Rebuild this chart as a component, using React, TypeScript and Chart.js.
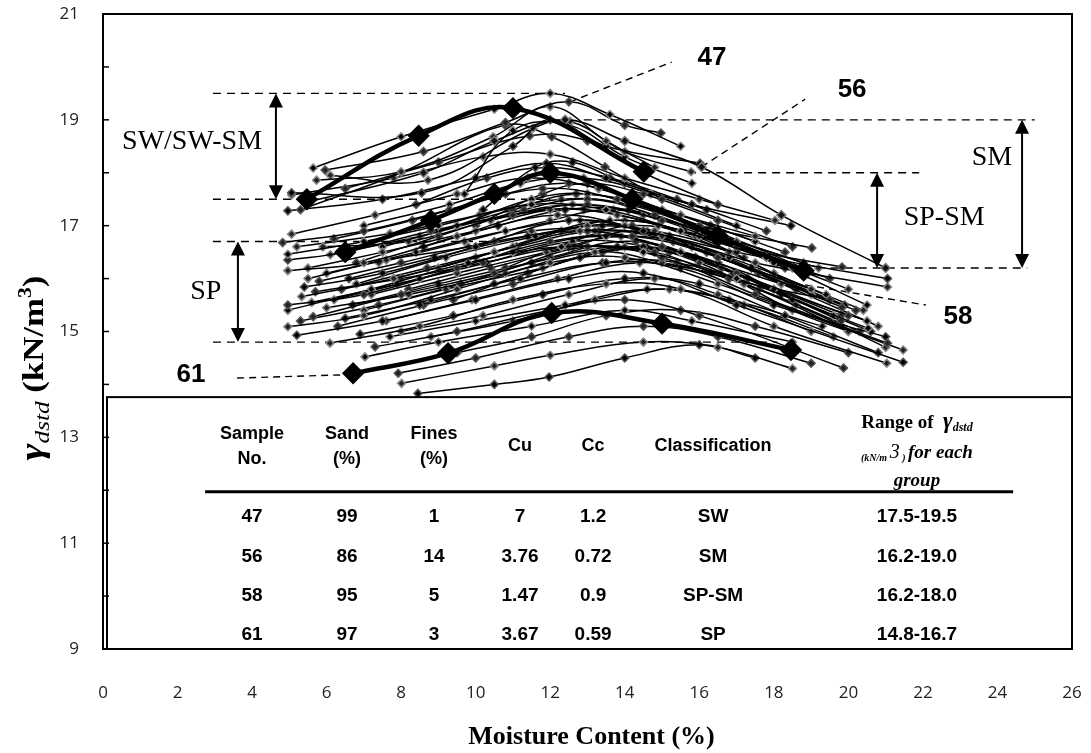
import { useEffect, useRef } from 'react';
import { Chart, registerables } from 'chart.js';

Chart.register(...registerables);

// ---------------- axes ----------------
const xTickValues = [0, 2, 4, 6, 8, 10, 12, 14, 16, 18, 20, 22, 24, 26];
const yTickValues = [9, 11, 13, 15, 17, 19, 21];
const yMinorTicks = [10, 11, 12, 13, 14, 15, 16, 17, 18, 19, 20];

// ---------------- labelled (bold) samples : [moisture %, dry unit weight kN/m3] ----------------
const sample47: number[][] = [[5.47, 17.5], [8.47, 18.7], [11.0, 19.22], [14.51, 18.02]];
const sample56: number[][] = [[5.5, 17.45], [8.6, 18.0], [10.5, 18.6], [12.4, 19.0], [14.0, 18.6], [16.06, 18.11], [18.2, 17.2], [21.0, 16.2]];
const sample58: number[][] = [[6.5, 16.5], [8.8, 17.1], [10.5, 17.6], [12.0, 18.0], [14.2, 17.5], [16.5, 16.8], [18.8, 16.15]];
const sample61: number[][] = [[6.71, 14.21], [9.26, 14.59], [12.04, 15.35], [15.0, 15.15], [18.46, 14.65]];

// ---------------- other compaction curves ----------------
const curve01: number[][] = [[5.64, 18.09], [8.0, 18.68], [10.5, 19.2], [12.0, 19.5], [13.6, 19.1], [15.5, 18.5]];
const curve02: number[][] = [[5.96, 18.05], [8.6, 18.4], [10.8, 18.95], [12.5, 19.34], [14.0, 18.9], [14.97, 18.75]];
const curve03: number[][] = [[5.73, 17.86], [8.0, 18.02], [10.47, 18.68], [12.0, 19.25], [13.5, 18.6], [14.8, 18.1]];
const curve04: number[][] = [[5.06, 17.62], [8.55, 17.62], [11.0, 18.5], [12.0, 19.0], [13.5, 18.5], [16.02, 18.18]];
const curve05: number[][] = [[6.1, 17.95], [8.72, 17.86], [11.54, 18.84], [12.53, 18.97], [14.0, 18.4], [15.78, 18.02]];
const curve06: number[][] = [[5.3, 17.3], [8.0, 18.0], [10.79, 18.9], [12.04, 18.68], [13.47, 18.11], [15.0, 17.5]];
const curve07: number[][] = [[9.7, 17.6], [11.0, 18.8], [12.5, 18.9], [14.0, 18.3], [15.8, 17.8]];
const curve08: number[][] = [[6.5, 17.7], [9.0, 18.2], [11.45, 18.7], [13.0, 18.6], [14.5, 18.0], [16.5, 17.4]];
const curve09: number[][] = [[5.06, 17.58], [7.8, 17.9], [10.2, 18.3], [12.0, 18.35], [14.0, 17.9], [16.0, 17.5], [18.03, 17.1]];
const curve10: number[][] = [[4.96, 17.28], [7.5, 17.5], [10.0, 17.9], [11.9, 18.18], [13.5, 17.9], [15.8, 17.4], [18.46, 17.0]];
const curve11: number[][] = [[5.06, 16.84], [7.3, 17.2], [9.5, 17.6], [11.4, 17.9], [13.3, 17.7], [15.5, 17.2], [17.5, 16.8]];
const curve12: number[][] = [[4.82, 16.68], [7.0, 16.9], [9.3, 17.3], [11.8, 17.7], [13.8, 17.5], [16.0, 17.0], [19.02, 16.58]];
const curve13: number[][] = [[4.96, 16.46], [7.0, 16.7], [9.0, 17.0], [11.5, 17.4], [13.5, 17.3], [15.5, 16.9], [17.8, 16.4]];
const curve14: number[][] = [[4.96, 16.35], [6.5, 16.5], [8.8, 16.9], [11.0, 17.2], [13.0, 17.4], [15.0, 17.1], [17.0, 16.6], [19.83, 16.22]];
const curve15: number[][] = [[4.96, 16.15], [7.0, 16.3], [9.5, 16.8], [12.0, 17.3], [13.8, 17.2], [16.0, 16.8], [18.5, 16.2]];
const curve16: number[][] = [[5.4, 15.84], [7.5, 16.1], [10.0, 16.6], [12.5, 17.1], [14.5, 16.9], [17.0, 16.5], [21.05, 16.0]];
const curve17: number[][] = [[5.33, 15.66], [7.8, 16.0], [10.5, 16.5], [12.8, 16.9], [15.0, 16.8], [17.5, 16.3], [21.05, 15.84]];
const curve18: number[][] = [[4.96, 15.5], [7.0, 15.7], [9.5, 16.2], [12.0, 16.7], [14.2, 16.8], [16.5, 16.4], [19.83, 15.46]];
const curve19: number[][] = [[4.96, 15.4], [7.2, 15.8], [9.8, 16.3], [12.3, 16.6], [14.5, 16.5], [17.0, 16.0], [20.53, 15.06]];
const curve20: number[][] = [[5.64, 15.28], [8.0, 15.7], [10.5, 16.1], [13.0, 16.6], [15.0, 16.4], [17.5, 15.7], [21.05, 14.78]];
const curve21: number[][] = [[4.96, 15.09], [7.0, 15.3], [9.5, 15.8], [12.0, 16.3], [14.0, 16.4], [16.5, 15.9], [21.47, 14.65]];
const curve22: number[][] = [[5.2, 14.93], [7.5, 15.2], [10.0, 15.6], [12.5, 16.0], [14.5, 16.1], [17.0, 15.5], [21.47, 14.42]];
const curve23: number[][] = [[6.09, 14.78], [8.5, 15.1], [11.0, 15.6], [13.5, 15.9], [15.5, 15.8], [18.0, 15.1], [21.03, 14.4]];
const curve24: number[][] = [[7.3, 14.71], [9.5, 15.0], [12.0, 15.4], [14.0, 15.6], [16.0, 15.3], [19.87, 14.31]];
const curve25: number[][] = [[7.03, 14.52], [9.0, 14.8], [11.5, 15.1], [14.0, 15.4], [15.8, 15.2], [18.5, 14.8]];
const curve26: number[][] = [[7.92, 14.21], [10.0, 14.5], [12.5, 14.9], [14.5, 15.1], [16.5, 14.9], [19.0, 14.4]];
const curve27: number[][] = [[8.01, 14.02], [10.5, 14.35], [12.0, 14.55], [14.5, 14.8], [16.5, 14.7], [18.5, 14.3]];
const curve28: number[][] = [[8.45, 13.83], [10.5, 14.0], [11.97, 14.14], [14.0, 14.5], [16.0, 14.75], [17.5, 14.5]];
const curve29: number[][] = [[5.5, 16.2], [7.5, 16.5], [10.0, 16.9], [12.2, 17.2], [14.0, 17.0], [16.5, 16.4], [19.0, 15.8]];
const curve30: number[][] = [[5.8, 15.95], [8.0, 16.3], [10.5, 16.7], [13.0, 16.9], [15.0, 16.6], [17.0, 16.1], [20.0, 15.3]];
const curve31: number[][] = [[6.2, 15.6], [8.5, 16.0], [11.0, 16.5], [13.5, 16.8], [15.5, 16.5], [18.0, 15.8], [20.5, 15.2]];
const curve32: number[][] = [[5.7, 15.75], [8.0, 16.0], [10.2, 16.3], [12.5, 16.6], [14.8, 16.5], [16.8, 16.0], [19.5, 15.6]];
const curve33: number[][] = [[6.0, 15.45], [8.2, 15.7], [10.8, 16.1], [13.2, 16.5], [15.0, 16.3], [17.2, 15.9], [20.0, 15.0]];
const curve34: number[][] = [[6.5, 15.25], [8.8, 15.6], [11.2, 16.0], [13.5, 16.3], [15.5, 16.2], [18.0, 15.5], [21.0, 14.9]];
const curve35: number[][] = [[5.5, 16.0], [7.6, 16.35], [9.8, 16.6], [11.5, 16.9], [13.2, 16.9], [15.5, 16.5], [18.2, 15.9]];
const curve36: number[][] = [[6.8, 16.3], [9.0, 16.8], [11.3, 17.3], [13.0, 17.5], [14.8, 17.2], [17.0, 16.6], [19.5, 16.0]];
const curve37: number[][] = [[7.5, 16.6], [9.5, 17.0], [11.5, 17.5], [13.0, 17.6], [15.0, 17.3], [17.5, 16.7]];
const curve38: number[][] = [[6.2, 16.75], [8.3, 17.1], [10.8, 17.6], [12.5, 17.8], [14.2, 17.5], [16.3, 17.0], [18.3, 16.5]];
const curve39: number[][] = [[9.0, 16.2], [11.0, 16.6], [13.0, 17.0], [14.8, 16.9], [16.8, 16.5], [19.0, 15.7]];
const curve40: number[][] = [[8.5, 15.5], [10.5, 15.9], [12.8, 16.4], [14.5, 16.6], [16.5, 16.3], [18.5, 15.6]];
const curve41: number[][] = [[8.0, 15.0], [10.2, 15.3], [12.5, 15.7], [14.8, 16.0], [16.5, 15.7], [19.0, 15.0]];
const curve42: number[][] = [[9.5, 14.6], [11.5, 14.9], [13.5, 15.3], [15.5, 15.4], [17.5, 15.1], [20.0, 14.6]];
const curve43: number[][] = [[6.8, 15.9], [9.2, 16.4], [11.6, 16.8], [13.6, 17.1], [15.6, 16.9], [18.0, 16.3], [20.5, 15.5]];
const curve44: number[][] = [[10.0, 17.0], [11.8, 17.6], [13.0, 17.8], [14.5, 17.6], [16.5, 17.1], [18.5, 16.6]];
const curve45: number[][] = [[5.9, 16.6], [8.2, 16.7], [10.4, 17.1], [12.6, 17.4], [14.5, 17.2], [17.0, 16.7], [19.2, 16.2]];
const curve46: number[][] = [[10.2, 17.3], [11.6, 18.1], [12.6, 18.2], [14.0, 17.8], [16.2, 17.3]];
const curve47: number[][] = [[7.0, 15.4], [9.2, 15.8], [11.8, 16.2], [14.0, 16.6], [16.0, 16.3], [18.5, 15.4], [20.0, 15.0]];
const curve48: number[][] = [[5.3, 15.2], [7.4, 15.5], [9.6, 15.9], [12.0, 16.4], [14.3, 16.7], [16.6, 16.2], [19.8, 15.2]];
const curve49: number[][] = [[6.0, 16.1], [8.4, 16.5], [10.8, 16.9], [12.8, 17.1], [14.6, 16.9], [16.8, 16.4], [19.4, 15.7]];
const curve50: number[][] = [[6.4, 15.8], [8.7, 16.2], [11.1, 16.6], [13.3, 16.9], [15.3, 16.7], [17.6, 16.1], [20.2, 15.4]];
const curve51: number[][] = [[7.2, 15.7], [9.5, 16.1], [11.9, 16.5], [13.9, 16.8], [15.8, 16.6], [18.2, 15.9], [20.8, 15.1]];
const curve52: number[][] = [[6.6, 16.0], [8.9, 16.4], [11.4, 16.8], [13.4, 17.0], [15.2, 16.8], [17.4, 16.2], [19.9, 15.5]];
const curve53: number[][] = [[7.8, 16.0], [10.0, 16.4], [12.3, 16.9], [14.0, 17.1], [15.9, 16.8], [18.0, 16.1], [20.4, 15.4]];
const curve54: number[][] = [[8.2, 15.8], [10.4, 16.2], [12.6, 16.6], [14.3, 16.9], [16.2, 16.5], [18.6, 15.8]];
const curve55: number[][] = [[5.6, 15.55], [7.9, 15.9], [10.3, 16.3], [12.6, 16.7], [14.6, 16.6], [16.9, 16.1], [19.6, 15.3]];
const curve56: number[][] = [[6.3, 15.1], [8.6, 15.5], [11.0, 15.9], [13.4, 16.3], [15.4, 16.3], [17.6, 15.8], [20.3, 15.0]];
const curve57: number[][] = [[7.6, 15.2], [9.9, 15.6], [12.2, 16.0], [14.4, 16.3], [16.3, 16.1], [18.6, 15.5], [21.0, 14.7]];
const curve58: number[][] = [[6.9, 14.95], [9.4, 15.3], [11.8, 15.7], [14.0, 16.0], [16.0, 15.9], [18.3, 15.3], [20.8, 14.6]];
const curve59: number[][] = [[8.8, 14.9], [11.0, 15.2], [13.2, 15.6], [15.2, 15.8], [17.2, 15.5], [19.6, 14.9]];
const curve60: number[][] = [[9.0, 16.9], [11.0, 17.3], [12.7, 17.6], [14.3, 17.4], [16.4, 16.9], [18.8, 16.2]];
const curve61: number[][] = [[7.0, 17.0], [9.3, 17.4], [11.2, 17.8], [12.9, 17.9], [14.7, 17.6], [17.0, 17.0]];
const curve62: number[][] = [[8.4, 17.4], [10.3, 17.9], [11.9, 18.1], [13.6, 17.9], [15.4, 17.5], [17.8, 16.9]];
const curve63: number[][] = [[7.4, 16.3], [9.7, 16.7], [12.0, 17.1], [13.7, 17.3], [15.6, 17.0], [17.8, 16.4], [20.0, 15.8]];
const curve64: number[][] = [[8.6, 16.6], [10.6, 17.0], [12.4, 17.3], [14.1, 17.3], [16.0, 16.9], [18.3, 16.2]];
const curve65: number[][] = [[6.1, 16.45], [8.5, 16.8], [10.9, 17.2], [12.9, 17.3], [14.9, 17.0], [17.2, 16.4]];
const curve66: number[][] = [[9.4, 15.6], [11.4, 16.1], [13.4, 16.5], [15.2, 16.5], [17.3, 16.0], [19.8, 15.3]];
const curve67: number[][] = [[7.7, 14.9], [10.0, 15.2], [12.4, 15.5], [14.6, 15.8], [16.8, 15.6], [19.3, 15.1]];
const curve68: number[][] = [[10.8, 16.2], [12.6, 16.7], [14.2, 17.0], [16.0, 16.8], [18.1, 16.3]];
const curve69: number[][] = [[5.2, 16.6], [7.7, 16.85], [10.1, 17.2], [12.3, 17.5], [14.1, 17.4], [16.2, 16.9], [18.8, 16.3]];
const curve70: number[][] = [[6.7, 15.5], [9.0, 15.9], [11.5, 16.3], [13.8, 16.6], [15.9, 16.4], [18.2, 15.7], [20.6, 15.0]];

const thinCurves = [
  curve01, curve02, curve03, curve04, curve05, curve06, curve07, curve08, curve09, curve10,
  curve11, curve12, curve13, curve14, curve15, curve16, curve17, curve18, curve19, curve20,
  curve21, curve22, curve23, curve24, curve25, curve26, curve27, curve28, curve29, curve30,
  curve31, curve32, curve33, curve34, curve35, curve36, curve37, curve38, curve39, curve40,
  curve41, curve42, curve43, curve44, curve45, curve46, curve47, curve48, curve49, curve50,
  curve51, curve52, curve53, curve54, curve55, curve56, curve57, curve58, curve59, curve60,
  curve61, curve62, curve63, curve64, curve65, curve66, curve67, curve68, curve69, curve70,
];

// ---------------- group range dashed lines ----------------
const dashLevels = [19.5, 17.5, 16.7, 14.8, 19.0, 18.0, 16.2];
const dashStart = [2.95, 2.95, 2.95, 2.95, 12.9, 15.7, 18.4];
const dashEnd = [12.4, 12.0, 10.5, 18.1, 25.0, 21.9, 24.8];

// ---------------- range arrows ----------------
const arrowX = [4.64, 3.62, 20.77, 24.66];
const arrowTop = [19.5, 16.7, 18.0, 19.0];
const arrowBottom = [17.5, 14.8, 16.2, 16.2];
const groupNames = ['SW/SW-SM', 'SP', 'SP-SM', 'SM'];
const groupNameX = [2.39, 2.76, 22.57, 23.85];
const groupNameY = [18.58, 15.75, 17.16, 18.28];

// ---------------- sample call-outs ----------------
const calloutNames = ['47', '56', '58', '61'];
const calloutTextX = [16.34, 20.1, 22.94, 2.36];
const calloutTextY = [20.17, 19.56, 15.27, 14.18];
const leaderFromX = [12.53, 16.06, 18.84, 3.6];
const leaderFromY = [19.34, 18.11, 15.88, 14.12];
const leaderToX = [15.26, 18.84, 22.08, 6.41];
const leaderToY = [20.09, 19.39, 15.5, 14.18];

// ---------------- table ----------------
const tableSample = ['47', '56', '58', '61'];
const tableSand = ['99', '86', '95', '97'];
const tableFines = ['1', '14', '5', '3'];
const tableCu = ['7', '3.76', '1.47', '3.67'];
const tableCc = ['1.2', '0.72', '0.9', '0.59'];
const tableClass = ['SW', 'SM', 'SP-SM', 'SP'];
const tableRange = ['17.5-19.5', '16.2-19.0', '16.2-18.0', '14.8-16.7'];

const SERIF = '"Liberation Serif", "Times New Roman", serif';
const SANS = '"Liberation Sans", Arial, sans-serif';

type Part = { t: string; f: string; dy?: number };

function richWidth(ctx: CanvasRenderingContext2D, parts: Part[]) {
  let w = 0;
  for (const p of parts) {
    ctx.font = p.f;
    w += ctx.measureText(p.t).width;
  }
  return w;
}

function drawRich(ctx: CanvasRenderingContext2D, parts: Part[], cx: number, baseline: number) {
  let x = cx - richWidth(ctx, parts) / 2;
  ctx.textAlign = 'left';
  ctx.textBaseline = 'alphabetic';
  for (const p of parts) {
    ctx.font = p.f;
    ctx.fillText(p.t, x, baseline + (p.dy || 0));
    x += ctx.measureText(p.t).width;
  }
}

function drawArrow(ctx: CanvasRenderingContext2D, x: number, yTop: number, yBot: number) {
  const hl = 14;
  const hw = 7;
  ctx.strokeStyle = '#000';
  ctx.fillStyle = '#000';
  ctx.lineWidth = 2;
  ctx.beginPath();
  ctx.moveTo(x, yTop + hl - 2);
  ctx.lineTo(x, yBot - hl + 2);
  ctx.stroke();
  ctx.beginPath();
  ctx.moveTo(x, yTop);
  ctx.lineTo(x - hw, yTop + hl);
  ctx.lineTo(x + hw, yTop + hl);
  ctx.closePath();
  ctx.fill();
  ctx.beginPath();
  ctx.moveTo(x, yBot);
  ctx.lineTo(x - hw, yBot - hl);
  ctx.lineTo(x + hw, yBot - hl);
  ctx.closePath();
  ctx.fill();
}

const decorPlugin = {
  id: 'decor',
  afterDatasetsDraw(chart: any) {
    const { ctx, chartArea: a } = chart;
    const xs = chart.scales.x;
    const ys = chart.scales.y;
    const X = (v: number) => xs.getPixelForValue(v);
    const Y = (v: number) => ys.getPixelForValue(v);
    ctx.save();

    // range arrows + group names
    for (let i = 0; i < arrowX.length; i++) {
      drawArrow(ctx, X(arrowX[i]), Y(arrowTop[i]), Y(arrowBottom[i]));
      ctx.fillStyle = '#000';
      ctx.font = `28px ${SERIF}`;
      ctx.textAlign = 'center';
      ctx.textBaseline = 'middle';
      ctx.fillText(groupNames[i], X(groupNameX[i]), Y(groupNameY[i]));
    }

    // call-out numbers
    ctx.font = `bold 26px ${SANS}`;
    for (let i = 0; i < calloutNames.length; i++) {
      ctx.fillText(calloutNames[i], X(calloutTextX[i]), Y(calloutTextY[i]));
    }

    // table box
    const tLeft = a.left + 4;
    const tTop = Y(13.76);
    ctx.fillStyle = '#fff';
    ctx.fillRect(tLeft, tTop, a.right - tLeft, a.bottom - tTop);
    ctx.strokeStyle = '#000';
    ctx.lineWidth = 2;
    ctx.strokeRect(tLeft, tTop, a.right - tLeft, a.bottom - tTop);

    const colX = [4.0, 6.55, 8.88, 11.19, 13.15, 16.37, 21.84].map(X);
    ctx.fillStyle = '#000';
    ctx.textAlign = 'center';
    ctx.textBaseline = 'middle';
    ctx.font = `bold 18px ${SANS}`;
    const h1 = Y(13.06);
    const h2 = Y(12.59);
    const hm = Y(12.84);
    ctx.fillText('Sample', colX[0], h1);
    ctx.fillText('No.', colX[0], h2);
    ctx.fillText('Sand', colX[1], h1);
    ctx.fillText('(%)', colX[1], h2);
    ctx.fillText('Fines', colX[2], h1);
    ctx.fillText('(%)', colX[2], h2);
    ctx.fillText('Cu', colX[3], hm);
    ctx.fillText('Cc', colX[4], hm);
    ctx.fillText('Classification', colX[5], hm);

    drawRich(ctx, [
      { t: 'Range of  ', f: `bold 19px ${SERIF}` },
      { t: 'γ', f: `bold italic 23px ${SERIF}` },
      { t: 'dstd', f: `bold italic 12px ${SERIF}`, dy: 3 },
    ], colX[6], Y(13.29) + 6);
    drawRich(ctx, [
      { t: '(kN/m ', f: `bold italic 10px ${SERIF}`, dy: 3 },
      { t: '3', f: `italic 20px ${SERIF}` },
      { t: ' ) ', f: `bold italic 10px ${SERIF}`, dy: 3 },
      { t: 'for each', f: `bold italic 19px ${SERIF}` },
    ], colX[6], Y(12.72) + 6);
    drawRich(ctx, [{ t: 'group', f: `bold italic 19px ${SERIF}` }], colX[6], Y(12.19) + 6);

    // rule
    ctx.lineWidth = 3;
    ctx.beginPath();
    ctx.moveTo(X(2.74), Y(11.97));
    ctx.lineTo(X(24.42), Y(11.97));
    ctx.stroke();

    // rows
    const rowY = [11.49, 10.74, 10.0, 9.26].map(Y);
    ctx.font = `bold 19px ${SANS}`;
    ctx.textAlign = 'center';
    ctx.textBaseline = 'middle';
    for (let r = 0; r < tableSample.length; r++) {
      const vals = [tableSample[r], tableSand[r], tableFines[r], tableCu[r], tableCc[r], tableClass[r], tableRange[r]];
      for (let c = 0; c < vals.length; c++) ctx.fillText(vals[c], colX[c], rowY[r]);
    }

    // plot frame
    ctx.strokeStyle = '#000';
    ctx.lineWidth = 2;
    ctx.strokeRect(a.left, a.top, a.right - a.left, a.bottom - a.top);
    // inward minor ticks on the y axis
    ctx.lineWidth = 1.5;
    for (const v of yMinorTicks) {
      const yy = Y(v);
      ctx.beginPath();
      ctx.moveTo(a.left, yy);
      ctx.lineTo(a.left + 6, yy);
      ctx.stroke();
    }

    // axis titles
    ctx.fillStyle = '#000';
    drawRich(ctx, [{ t: 'Moisture Content (%)', f: `bold 26px ${SERIF}` }], (a.left + a.right) / 2 + 4, 744);

    ctx.translate(43, 368);
    ctx.rotate(-Math.PI / 2);
    ctx.scale(1.2, 1);
    drawRich(ctx, [
      { t: 'γ', f: `bold italic 34px ${SERIF}` },
      { t: 'dstd', f: `italic 21px ${SERIF}`, dy: 6 },
      { t: ' (kN/m', f: `bold 29px ${SERIF}` },
      { t: '3', f: `bold 18px ${SERIF}`, dy: -12 },
      { t: ')', f: `bold 29px ${SERIF}` },
    ], 0, 0);
    ctx.restore();
  },
};

function toPoints(c: number[][]) {
  return c.map((p) => ({ x: p[0], y: p[1] }));
}

export default function App() {
  const ref = useRef<HTMLCanvasElement | null>(null);
  useEffect(() => {
    if (!ref.current) return;
    const datasets: any[] = [];

    // bold labelled samples (drawn on top)
    for (const s of [sample47, sample58, sample61]) {
      datasets.push({
        data: toPoints(s), showLine: true, tension: 0.4, borderColor: '#000', borderWidth: 4.5,
        pointStyle: 'rectRot', pointRadius: 8, pointBackgroundColor: '#000', pointBorderColor: '#000', order: 0,
      });
    }
    datasets.push({
      data: toPoints(sample56), showLine: true, tension: 0.4, borderColor: '#000', borderWidth: 1.6,
      pointStyle: 'rectRot', pointRadius: 4.5, pointBackgroundColor: '#111', pointBorderColor: '#7a7a7a', pointBorderWidth: 1.5, order: 1,
    });
    thinCurves.forEach((c, i) => {
      datasets.push({
        data: toPoints(c), showLine: true, tension: 0.4, borderColor: '#000', borderWidth: 1.5,
        pointStyle: 'rectRot', pointRadius: 4, pointBackgroundColor: i % 3 === 0 ? '#000' : '#222',
        pointBorderColor: i % 2 === 0 ? '#888' : '#555', pointBorderWidth: 1.5, order: 2,
      });
    });
    // leaders
    for (let i = 0; i < calloutNames.length; i++) {
      datasets.push({
        data: [{ x: leaderFromX[i], y: leaderFromY[i] }, { x: leaderToX[i], y: leaderToY[i] }],
        showLine: true, tension: 0, borderColor: '#000', borderWidth: 1.4, borderDash: [7, 5], pointRadius: 0, order: 3,
      });
    }
    // dashed range lines
    for (let i = 0; i < dashLevels.length; i++) {
      datasets.push({
        data: [{ x: dashStart[i], y: dashLevels[i] }, { x: dashEnd[i], y: dashLevels[i] }],
        showLine: true, tension: 0, borderColor: '#000', borderWidth: 1.4, borderDash: [8, 6], pointRadius: 0, order: 4,
      });
    }

    const hiddenGrid = { display: true, drawOnChartArea: false, drawTicks: true, color: 'rgba(0,0,0,0)' };

    const chart = new Chart(ref.current, {
      type: 'scatter',
      data: { datasets },
      options: {
        responsive: false,
        animation: false,
        devicePixelRatio: 1,
        layout: { padding: { left: 0, top: 14, right: 19, bottom: 0 } },
        plugins: { legend: { display: false }, tooltip: { enabled: false }, title: { display: false } },
        scales: {
          x: {
            type: 'linear', min: 0, max: 26,
            afterBuildTicks: (s: any) => { s.ticks = xTickValues.map((v) => ({ value: v })); },
            afterFit: (s: any) => { s.height = 104; },
            grid: { ...hiddenGrid, tickLength: 34 },
            border: { display: false },
            ticks: { font: { family: '"Open Sans", sans-serif', size: 17 }, color: '#222', padding: 0, maxRotation: 0 },
          },
          y: {
            type: 'linear', min: 9, max: 21,
            afterBuildTicks: (s: any) => { s.ticks = yTickValues.map((v) => ({ value: v })); },
            afterFit: (s: any) => { s.width = 103; },
            grid: { ...hiddenGrid, tickLength: 24 },
            border: { display: false },
            ticks: { font: { family: '"Open Sans", sans-serif', size: 17 }, color: '#222', padding: 0 },
          },
        },
      },
      plugins: [decorPlugin],
    } as any);
    return () => chart.destroy();
  }, []);

  return (
    <div style={{ position: 'absolute', left: 0, top: 0, width: 1091, height: 753, background: '#fff' }}>
      <canvas ref={ref} width={1091} height={753} />
    </div>
  );
}
